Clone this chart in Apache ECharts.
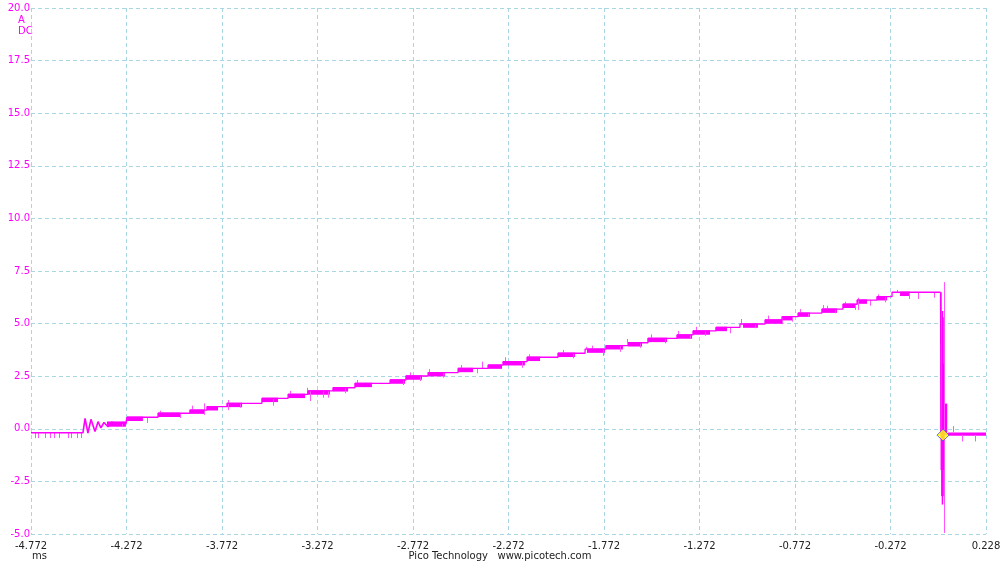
<!DOCTYPE html>
<html><head><meta charset="utf-8">
<script src="https://cdn.jsdelivr.net/npm/echarts@6/dist/echarts.min.js"></script>
<style>html,body{margin:0;padding:0;background:#fff;overflow:hidden;width:1000px;height:562px}#c{width:1000px;height:562px}</style>
</head><body><div id="c"></div>
<script>
// ---- data (time in ms, current in A) ----
const xTickValues = [-4.772, -4.272, -3.772, -3.272, -2.772, -2.272, -1.772, -1.272, -0.772, -0.272, 0.228];
const yTickValues = [-5, -2.5, 0, 2.5, 5, 7.5, 10, 12.5, 15, 17.5, 20];

// pre-ramp baseline and ringing
const preT = [-4.772, -4.500, -4.489, -4.474, -4.458, -4.437, -4.421, -4.406, -4.390, -4.369, -4.348, -4.317, -4.290, -4.275, -4.269];
const preV = [-0.19, -0.19, 0.50, -0.20, 0.45, -0.13, 0.34, 0.04, 0.30, 0.10, 0.32, 0.15, 0.30, 0.25, 0.55];

// staircase: start time of each level and its value
const stepT = [-4.269, -4.107, -3.940, -3.851, -3.746, -3.563, -3.426, -3.322, -3.191, -3.076, -2.892, -2.809, -2.693, -2.536, -2.379, -2.301, -2.175, -2.013, -1.871, -1.762, -1.646, -1.542, -1.390, -1.306, -1.186, -1.060, -0.929, -0.840, -0.756, -0.631, -0.521, -0.447, -0.343, -0.264, -0.010];
const stepV = [0.55, 0.74, 0.89, 1.05, 1.21, 1.45, 1.64, 1.80, 1.95, 2.16, 2.32, 2.51, 2.67, 2.87, 3.03, 3.19, 3.40, 3.59, 3.79, 3.95, 4.09, 4.30, 4.46, 4.65, 4.82, 4.98, 5.17, 5.33, 5.50, 5.69, 5.92, 6.12, 6.28, 6.49, 6.49];

// after the switch-off
const tailT = [-0.010, -0.008, 0.029, 0.228];
const tailV = [6.49, -0.25, -0.25, -0.25];

// dense noise bursts: [tStart, tEnd, low, high]
const bursts = [
  [-4.374, -4.275, 0.10, 0.35], [-4.269, -4.186, 0.37, 0.58], [-4.107, -3.992, 0.56, 0.77],
  [-3.940, -3.861, 0.71, 0.92], [-3.851, -3.793, 0.87, 1.08], [-3.746, -3.667, 1.03, 1.24],
  [-3.563, -3.479, 1.27, 1.48], [-3.426, -3.337, 1.46, 1.67], [-3.322, -3.207, 1.62, 1.83],
  [-3.191, -3.112, 1.77, 1.98], [-3.076, -2.987, 1.98, 2.19], [-2.892, -2.814, 2.14, 2.35],
  [-2.809, -2.725, 2.33, 2.54], [-2.693, -2.605, 2.49, 2.70], [-2.536, -2.458, 2.69, 2.90],
  [-2.379, -2.306, 2.85, 3.06], [-2.301, -2.186, 3.01, 3.22], [-2.175, -2.107, 3.22, 3.43],
  [-2.013, -1.924, 3.41, 3.62], [-1.861, -1.767, 3.61, 3.82], [-1.762, -1.673, 3.77, 3.98],
  [-1.646, -1.573, 3.91, 4.12], [-1.542, -1.442, 4.12, 4.33], [-1.390, -1.311, 4.28, 4.49],
  [-1.306, -1.217, 4.47, 4.68], [-1.186, -1.128, 4.64, 4.85], [-1.044, -0.966, 4.80, 5.01],
  [-0.929, -0.840, 4.99, 5.20], [-0.840, -0.783, 5.15, 5.36], [-0.756, -0.694, 5.32, 5.53],
  [-0.631, -0.552, 5.51, 5.72], [-0.521, -0.458, 5.74, 5.95], [-0.447, -0.395, 5.94, 6.15],
  [-0.343, -0.290, 6.10, 6.31], [-0.222, -0.170, 6.31, 6.52],
  [-0.010, 0.013, -1.96, 3.10], [0.013, 0.025, -0.20, 1.20], [-0.007, 0.007, -3.20, 5.30],
  [-0.004, 0.004, -3.60, 5.60],
  [0.029, 0.228, -0.33, -0.17]
];

// single spikes: [t, from, to]
const spikes = [
  [-4.751, -0.19, -0.44], [-4.735, -0.19, -0.44], [-4.699, -0.19, -0.44], [-4.673, -0.19, -0.44],
  [-4.652, -0.19, -0.44], [-4.625, -0.19, -0.44], [-4.578, -0.19, -0.44], [-4.563, -0.19, -0.44],
  [-4.531, -0.19, -0.44], [-4.510, -0.19, -0.44],
  [-4.296, 0.25, 0.10], [-4.165, 0.55, 0.28], [-4.097, 0.74, 0.86], [-3.992, 0.74, 0.51],
  [-3.929, 0.89, 1.10], [-3.866, 0.66, 1.21], [-3.741, 0.89, 1.37], [-3.678, 1.21, 1.00],
  [-3.505, 1.45, 1.10], [-3.416, 1.64, 1.80], [-3.327, 1.64, 1.95], [-3.311, 1.80, 1.32],
  [-3.243, 1.80, 1.48], [-3.217, 1.80, 1.48], [-3.128, 1.95, 1.69], [-3.065, 2.16, 2.32],
  [-2.824, 2.32, 2.08], [-2.788, 2.51, 2.68], [-2.735, 2.51, 2.27], [-2.688, 2.67, 2.84],
  [-2.615, 2.67, 2.43], [-2.521, 2.87, 3.03], [-2.437, 2.87, 2.64], [-2.411, 2.87, 3.19],
  [-2.290, 3.19, 3.40], [-2.201, 3.19, 2.90], [-2.165, 3.40, 3.54], [-1.987, 3.59, 3.75],
  [-1.934, 3.59, 3.35], [-1.866, 3.79, 3.90], [-1.835, 3.79, 3.95], [-1.777, 3.79, 3.47],
  [-1.688, 3.95, 3.66], [-1.652, 4.09, 4.27], [-1.583, 4.09, 3.85], [-1.526, 4.30, 4.49],
  [-1.453, 4.30, 4.06], [-1.385, 4.46, 4.65], [-1.322, 4.46, 4.30], [-1.290, 4.65, 4.85],
  [-1.243, 4.65, 4.42], [-1.112, 4.82, 4.54], [-1.055, 4.98, 5.22], [-0.981, 4.98, 4.78],
  [-0.913, 5.17, 5.38], [-0.840, 5.33, 4.97], [-0.788, 5.33, 5.09], [-0.746, 5.50, 5.69],
  [-0.704, 5.50, 5.33], [-0.625, 5.69, 5.88], [-0.604, 5.69, 5.85], [-0.563, 5.69, 5.49],
  [-0.510, 5.92, 6.04], [-0.458, 5.92, 5.65], [-0.442, 5.65, 6.23], [-0.379, 6.12, 5.85],
  [-0.337, 6.28, 6.39], [-0.301, 6.28, 6.01], [-0.238, 6.47, 6.60], [-0.175, 6.49, 6.17],
  [-0.128, 6.49, 6.17], [-0.044, 6.49, 6.23],
  [0.008, -4.95, 6.97], [-0.010, -0.25, 6.49],
  [0.055, -0.25, 0.13], [0.102, -0.25, -0.60], [0.170, -0.25, -0.60]
];

const triggerPoint = [0.003, -0.30];

// ---- chart ----
const MAG = '#ff00ff';
const FONT = 'DejaVu Sans';
const zip = (a, b) => a.map((v, i) => [v, b[i]]);

const chart = echarts.init(document.getElementById('c'), null, {renderer: 'canvas', width: 1000, height: 562});
const gridLine = {show: true, lineStyle: {color: '#a9d6e2', width: 1, type: [4, 3]}};

chart.setOption({
  animation: false,
  backgroundColor: '#ffffff',
  grid: {left: 31, right: 14, top: 8, bottom: 28, containLabel: false, outerBoundsMode: 'none'},
  xAxis: {
    type: 'value', min: -4.772, max: 0.228, interval: 0.5,
    axisLine: {show: false}, axisTick: {show: false},
    splitLine: gridLine,
    axisLabel: {
      color: '#222', fontFamily: FONT, fontSize: 10, margin: 7,
      formatter: v => v.toFixed(3),
      showMinLabel: true, showMaxLabel: true
    }
  },
  yAxis: {
    type: 'value', min: -5, max: 20, interval: 2.5,
    axisLine: {show: false}, axisTick: {show: false},
    splitLine: gridLine,
    axisLabel: {color: MAG, fontFamily: FONT, fontSize: 10, margin: 1, formatter: v => v.toFixed(1)}
  },
  graphic: [
    {type: 'text', left: 18, top: 15, style: {text: 'A', fill: MAG, font: '10px "DejaVu Sans"'}},
    {type: 'text', left: 18, top: 26, style: {text: 'DC', fill: MAG, font: '10px "DejaVu Sans"'}},
    {type: 'text', left: 32, top: 551, style: {text: 'ms', fill: '#222', font: '10px "DejaVu Sans"'}},
    {type: 'text', left: 'center', top: 551, style: {text: 'Pico Technology   www.picotech.com', fill: '#222', font: '10px "DejaVu Sans"'}}
  ],
  series: [
    {
      type: 'custom', name: 'bursts', clip: true, z: 3,
      data: bursts,
      encode: {x: [0, 1], y: [2, 3]},
      renderItem: (params, api) => {
        const p0 = api.coord([api.value(0), api.value(3)]);
        const p1 = api.coord([api.value(1), api.value(2)]);
        return {type: 'rect', shape: {x: p0[0], y: p0[1], width: Math.max(1, p1[0] - p0[0]), height: p1[1] - p0[1]},
          style: {fill: MAG}};
      }
    },
    {
      type: 'custom', name: 'spikes', clip: true, z: 3,
      data: spikes,
      encode: {x: 0, y: [1, 2]},
      renderItem: (params, api) => {
        const a = api.coord([api.value(0), api.value(1)]);
        const b = api.coord([api.value(0), api.value(2)]);
        const x = Math.round(a[0]) + 0.5;
        return {type: 'line', shape: {x1: x, y1: a[1], x2: x, y2: b[1]},
          style: {stroke: '#ff55ff', lineWidth: 1}};
      }
    },
    {type: 'line', name: 'pre', data: zip(preT, preV), showSymbol: false, symbol: 'none', z: 4,
      lineStyle: {color: MAG, width: 1.6}},
    {type: 'line', name: 'steps', data: zip(stepT, stepV), step: 'end', showSymbol: false, symbol: 'none', z: 4,
      lineStyle: {color: MAG, width: 1.3}},
    {type: 'line', name: 'tail', data: zip(tailT, tailV), showSymbol: false, symbol: 'none', z: 4,
      lineStyle: {color: MAG, width: 1.3}},
    {type: 'scatter', name: 'trigger', data: [triggerPoint], symbol: 'diamond', symbolSize: [12, 12], z: 10,
      itemStyle: {color: '#ffff00', borderColor: '#4b4bd8', borderWidth: 1}}
  ]
});
</script>
</body></html>
